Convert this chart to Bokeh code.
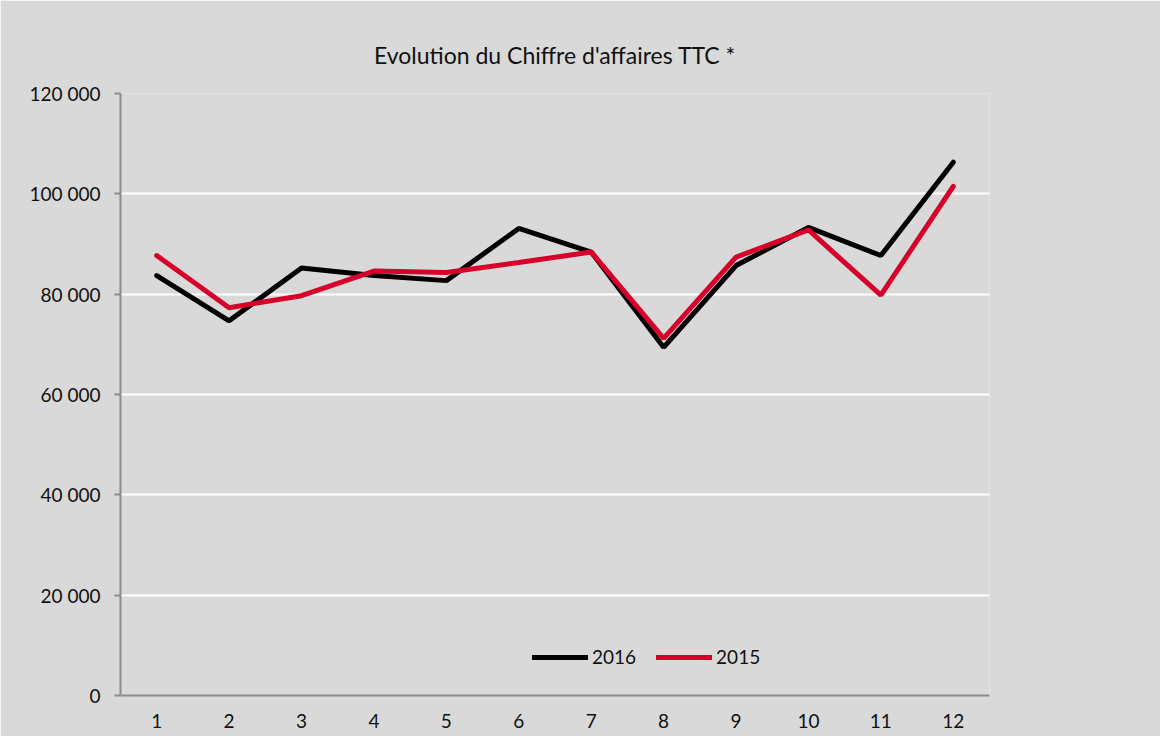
from bokeh.plotting import figure
from bokeh.embed import file_html
from bokeh.resources import INLINE
from bokeh.models import FixedTicker, Legend, LegendItem, Range1d

months = [1, 2, 3, 4, 5, 6, 7, 8, 9, 10, 11, 12]
month_labels = ["1", "2", "3", "4", "5", "6", "7", "8", "9", "10", "11", "12"]
ca_2016 = [83700, 74700, 85200, 83700, 82700, 93100, 88400, 69400, 85700, 93300, 87700, 106300]
ca_2015 = [87700, 77300, 79700, 84600, 84300, 86300, 88400, 71200, 87400, 92800, 79800, 101500]
y_ticks = [0, 20000, 40000, 60000, 80000, 100000, 120000]
y_labels = ["0", "20 000", "40 000", "60 000", "80 000", "100 000", "120 000"]

FONT = "Lato"
BG = "#d9d9d9"

p = figure(width=1160, height=736, output_backend="svg", toolbar_location=None,
           x_range=Range1d(0.5, 12.5), y_range=Range1d(0, 120000),
           title="Evolution du Chiffre d'affaires TTC *",
           min_border_left=120, min_border_right=171, min_border_top=93, min_border_bottom=41)
p.background_fill_color = BG
p.border_fill_color = BG
p.outline_line_color = None

p.title.align = "center"
p.title.text_font = FONT
p.title.text_font_size = "23px"
p.title.text_font_style = "normal"
p.title.text_color = "#111111"
p.title.offset = 0
p.title.standoff = 49

p.xgrid.grid_line_color = None
p.ygrid.grid_line_color = "white"
p.ygrid.grid_line_width = 2

p.yaxis.ticker = FixedTicker(ticks=y_ticks)
p.yaxis.major_label_overrides = {t: l for t, l in zip(y_ticks, y_labels)}
p.xaxis.ticker = FixedTicker(ticks=months)
p.xaxis.major_label_overrides = {m: l for m, l in zip(months, month_labels)}

for ax in (p.xaxis, p.yaxis):
    ax.axis_line_color = "#8c8c8c"
    ax.axis_line_width = 2
    ax.minor_tick_line_color = None
    ax.major_label_text_font = FONT
    ax.major_label_text_font_size = "19px"
    ax.major_label_text_color = "#111111"
p.xaxis.major_tick_line_color = None
p.xaxis.major_label_standoff = 12
p.yaxis.major_tick_line_color = "#8c8c8c"
p.yaxis.major_tick_line_width = 2
p.yaxis.major_tick_in = 0
p.yaxis.major_tick_out = 6
p.yaxis.major_label_standoff = 14

r16 = p.line(months, ca_2016, line_color="black", line_width=5, line_cap="round")
r15 = p.line(months, ca_2015, line_color="#d7002a", line_width=5, line_cap="round")

legend = Legend(items=[LegendItem(label="2016", renderers=[r16]),
                       LegendItem(label="2015", renderers=[r15])],
                orientation="horizontal", location=(412, 27),
                background_fill_alpha=0, border_line_color=None,
                label_text_font=FONT, label_text_font_size="19px",
                label_text_color="#111111",
                glyph_width=56, glyph_height=20, label_standoff=4,
                spacing=20, padding=0, margin=0)
p.add_layout(legend, "center")

open("out.html", "w").write(file_html(p, INLINE))
